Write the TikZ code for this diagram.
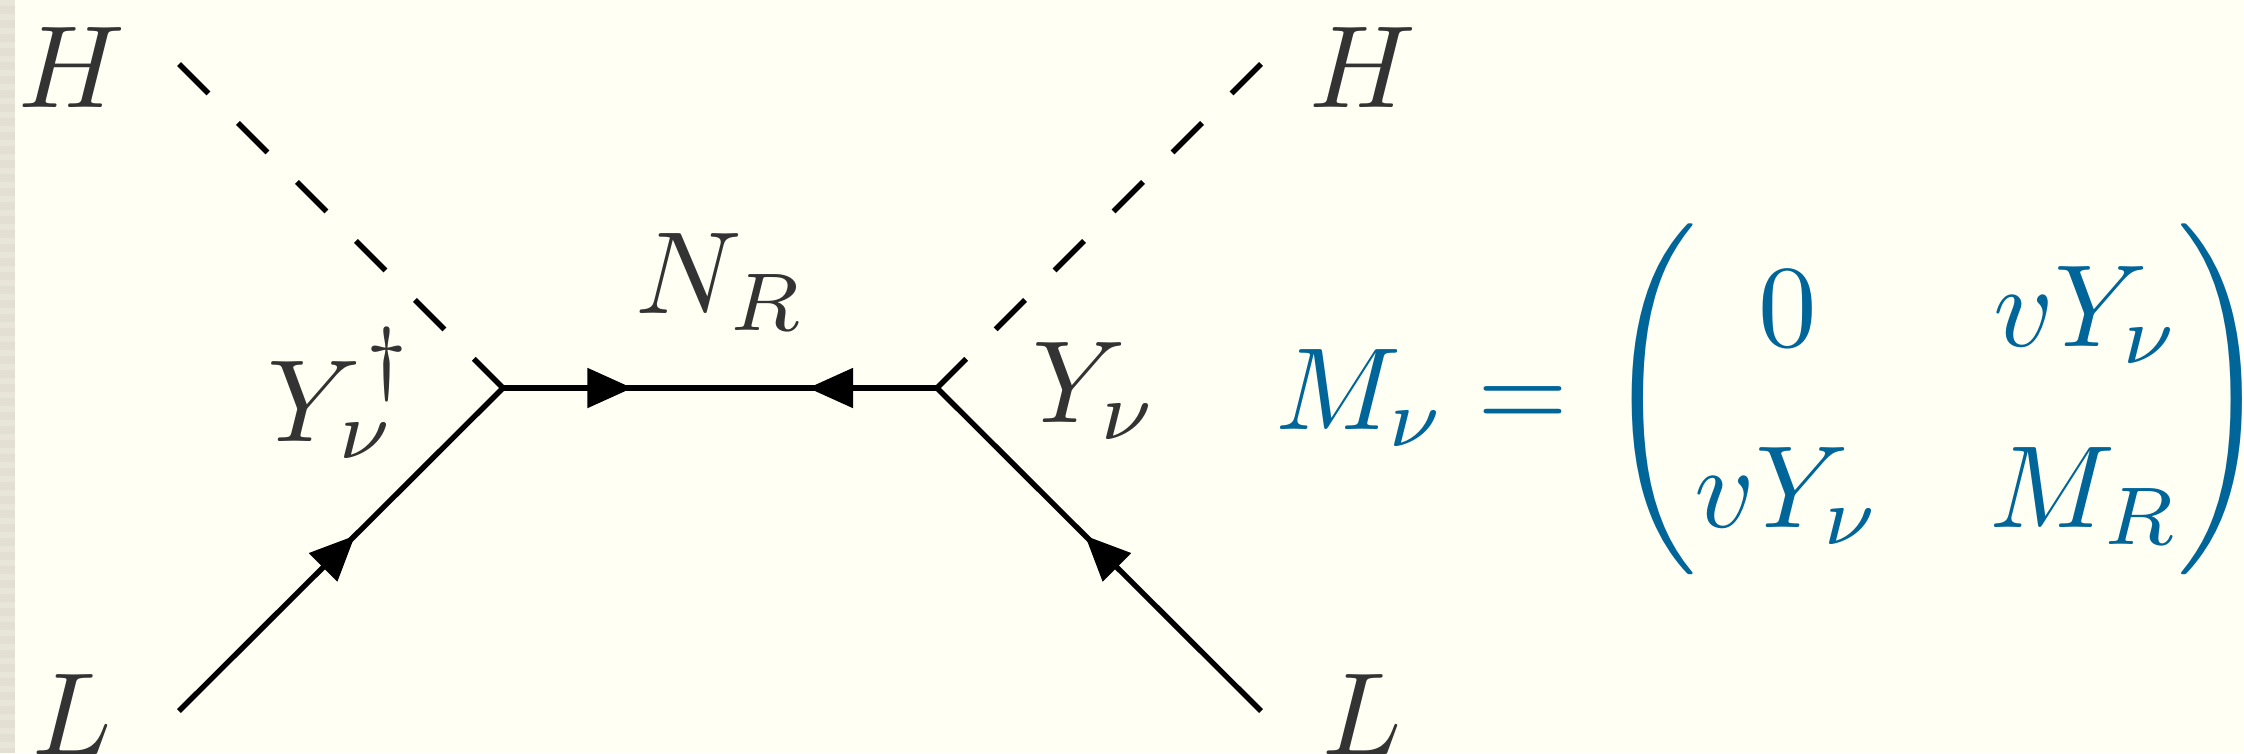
\documentclass[tikz,border=0pt]{standalone}
\usetikzlibrary{arrows.meta,decorations.markings}
\definecolor{paper}{HTML}{FFFFF3}
\definecolor{strip}{HTML}{E3E0D3}
\definecolor{stripb}{HTML}{E8E5D9}
\definecolor{ink}{HTML}{333333}
\definecolor{eqblue}{HTML}{006699}
\tikzset{
  label/.style={scale=11.7,inner sep=0pt,anchor=base,text=ink},
  eqn/.style={scale=11.7,inner sep=0pt,anchor=base,text=eqblue},
  scalar/.style={line width=5.4pt,dash pattern=on 41.7pt off 41.7pt},
  fermion/.style={line width=5.4pt},
  headA/.style={postaction={decorate,decoration={markings,mark=at position #1 with {\arrow{Triangle[length=45pt,width=39pt,sep=0pt]}}}}},
  headB/.style={postaction={decorate,decoration={markings,mark=at position #1 with {\arrowreversed{Triangle[length=45pt,width=39pt,sep=0pt]}}}}},
}
\begin{document}
\begin{tikzpicture}[x=1pt,y=-1pt]
\useasboundingbox (0,0) rectangle (2244,753);
\fill[paper] (0,0) rectangle (2244,753);
\fill[strip] (0,0) rectangle (15,753);
\foreach \yy in {0,14,...,742} {\fill[stripb] (0,\yy) rectangle (15,\yy+6);}
\coordinate (hl) at (179,64);
\coordinate (hr) at (1261,64);
\coordinate (ll) at (179,711);
\coordinate (lr) at (1261,711);
\coordinate (vl) at (503,388);
\coordinate (vr) at (937,388);
\draw[scalar] (hl) -- (vl);
\draw[scalar] (hr) -- (vr);
\draw[fermion,headA=0.543] (ll) -- (vl);
\draw[fermion,headA=0.543] (lr) -- (vr);
\draw[fermion,headA=0.298,headB=0.703,line cap=round] (vl) -- (vr);
\node[label] (th1) at (72,107) {$H$};
\node[label] (th2) at (1363,107) {$H$};
\node[label] (tl1) at (72,754) {$L$};
\node[label] (tl2) at (1362,754) {$L$};
\node[label] (tn) at (721,313) {$N_R$};
\node[label] (ty1) at (341,441) {$Y^{\kern0.3pt\raisebox{1.2pt}{$\scriptstyle\dagger$}}_{\kern0.22pt\raisebox{1pt}{$\scriptstyle\nu$}}$};
\node[label] (ty2) at (1096,422) {$Y_\nu$};
\node[eqn] (tm) at (1422,429) {$M_\nu\kern-.17pt=$};
\node[eqn] (lp) at (1651,429) {$\Bigg($};
\node[eqn] (rp) at (2224,429) {$\Bigg)$};
\node[eqn] (a) at (1788,346) {$0$};
\node[eqn] (b) at (2087,346) {$vY_\nu$};
\node[eqn] (c) at (1788,527) {$vY_\nu$};
\node[eqn] (d) at (2085,527) {$M_R$};
\end{tikzpicture}
\end{document}
